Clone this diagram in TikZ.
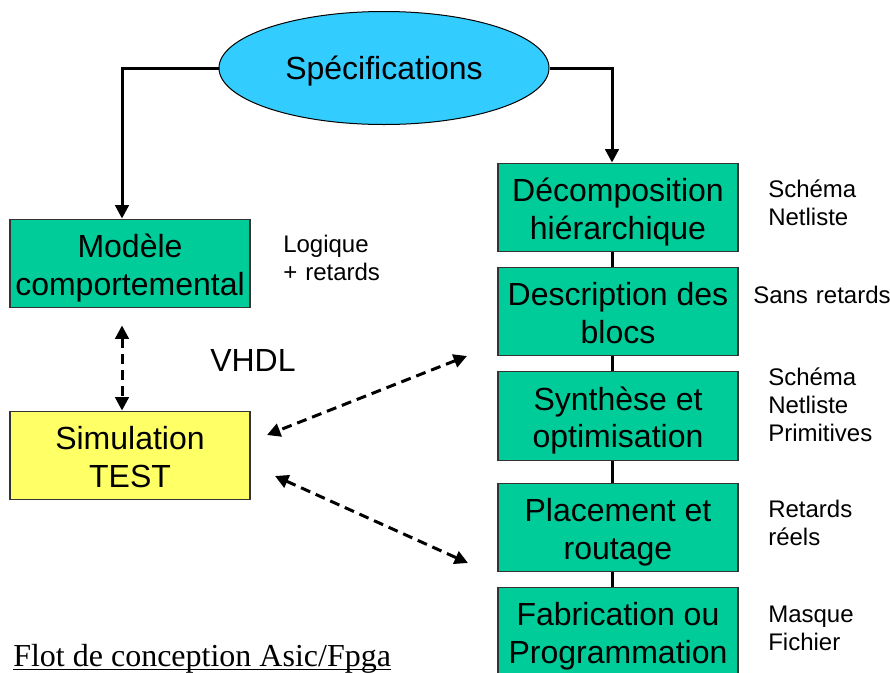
\documentclass[tikz,border=0pt]{standalone}
\usepackage{fontspec}
\setmainfont{Liberation Sans}
\newfontfamily\titlefont{Liberation Serif}
\usetikzlibrary{shapes.geometric,arrows.meta}

\definecolor{stepgreen}{HTML}{00CC99}
\definecolor{speccyan}{HTML}{33CCFF}
\definecolor{simyellow}{HTML}{FFFF66}

% two centred lines whose baselines sit at fixed offsets from the box centre
\newcommand\steptext[1]{\raisebox{4.2pt}[0pt][0pt]{\begin{tabular}[t]{@{}c@{}}#1\end{tabular}}}

\tikzset{
  stepbox/.style={draw=black!80, line width=0.9pt, fill=stepgreen,
    minimum width=180pt, minimum height=66.5pt, inner sep=0pt,
    font=\fontsize{24}{28}\selectfont},
  sidelabel/.style={anchor=base west, inner sep=0pt, text width=110pt,
    align=left, font=\fontsize{18}{21}\selectfont},
  flow/.style={line width=2.25pt, -{Triangle[length=10pt,width=10pt]}},
  link/.style={line width=2.25pt},
  vhdllink/.style={line width=2.25pt, dash pattern=on 7.5pt off 4.5pt,
    {Triangle[length=10pt,width=10pt]}-{Triangle[length=10pt,width=10pt]}},
}

\begin{document}
\begin{tikzpicture}[x=0.75pt,y=-0.75pt]
\useasboundingbox (0,0) rectangle (890,672);

% specification ellipse
\node[ellipse, draw, line width=0.75pt, fill=speccyan,
  minimum width=247.5pt, minimum height=84.75pt, inner sep=0pt,
  font=\fontsize{24}{28}\selectfont] (spec) at (384,68)
  {\raisebox{-8.8pt}[0pt][0pt]{Spécifications}};

% behavioural branch
\node[stepbox] (mod) at (130,263.5) {\steptext{Modèle\\comportemental}};
\node[stepbox, fill=simyellow] (sim) at (130,455.5) {\steptext{Simulation\\TEST}};
\node[anchor=base west, inner sep=0pt, font=\fontsize{24}{28}\selectfont]
  (vhdl) at (210,371) {VHDL};
\node[sidelabel] (logique) at (283,252) {Logique\\+ retards};

% implementation chain
\node[stepbox] (dec)  at (618,207.5) {\steptext{Décomposition\\hiérarchique}};
\node[stepbox] (desc) at (618,311.5) {\steptext{Description des\\blocs}};
\node[stepbox] (syn)  at (618,416)   {\steptext{Synthèse et\\optimisation}};
\node[stepbox] (plac) at (618,527.5) {\steptext{Placement et\\routage}};
\node[stepbox] (fab)  at (618,631.5) {\steptext{Fabrication ou\\Programmation}};

% notes beside the chain
\node[sidelabel] (ndec)  at (768,197) {Schéma\\Netliste};
\node[sidelabel] (ndesc) at (753,303) {Sans retards};
\node[sidelabel] (nsyn)  at (768,385) {Schéma\\Netliste\\Primitives};
\node[sidelabel] (nplac) at (768,517) {Retards\\réels};
\node[sidelabel] (nfab)  at (768,622) {Masque\\Fichier};

% caption
\node[anchor=base west, inner sep=0pt, font=\titlefont\fontsize{24}{28}\selectfont]
  (title) at (13,666) {Flot de conception Asic/Fpga};
\draw[line width=1.1pt] ([yshift=-2.6pt]title.base west) -- ([yshift=-2.6pt]title.base east);

% solid connectors
\draw[flow] (spec.west) -| ([xshift=-6pt]mod.north);
\draw[flow] (spec.east) -| ([xshift=-4.5pt]dec.north);
\foreach \a/\b in {dec/desc,desc/syn,syn/plac,plac/fab}
  \draw[link] ([xshift=-4.5pt]\a.south) -- ([xshift=-4.5pt]\b.north);

% dashed simulation links
\draw[vhdllink] ([xshift=-6pt,yshift=-12.75pt]mod.south) -- ([xshift=-6pt]sim.north);
\coordinate (v1) at (467,356);
\coordinate (v2) at (267,435);
\coordinate (v3) at (275,476);
\coordinate (v4) at (468,563);
\draw[vhdllink] (v1) -- (v2);
\draw[vhdllink] (v3) -- (v4);
\end{tikzpicture}
\end{document}
